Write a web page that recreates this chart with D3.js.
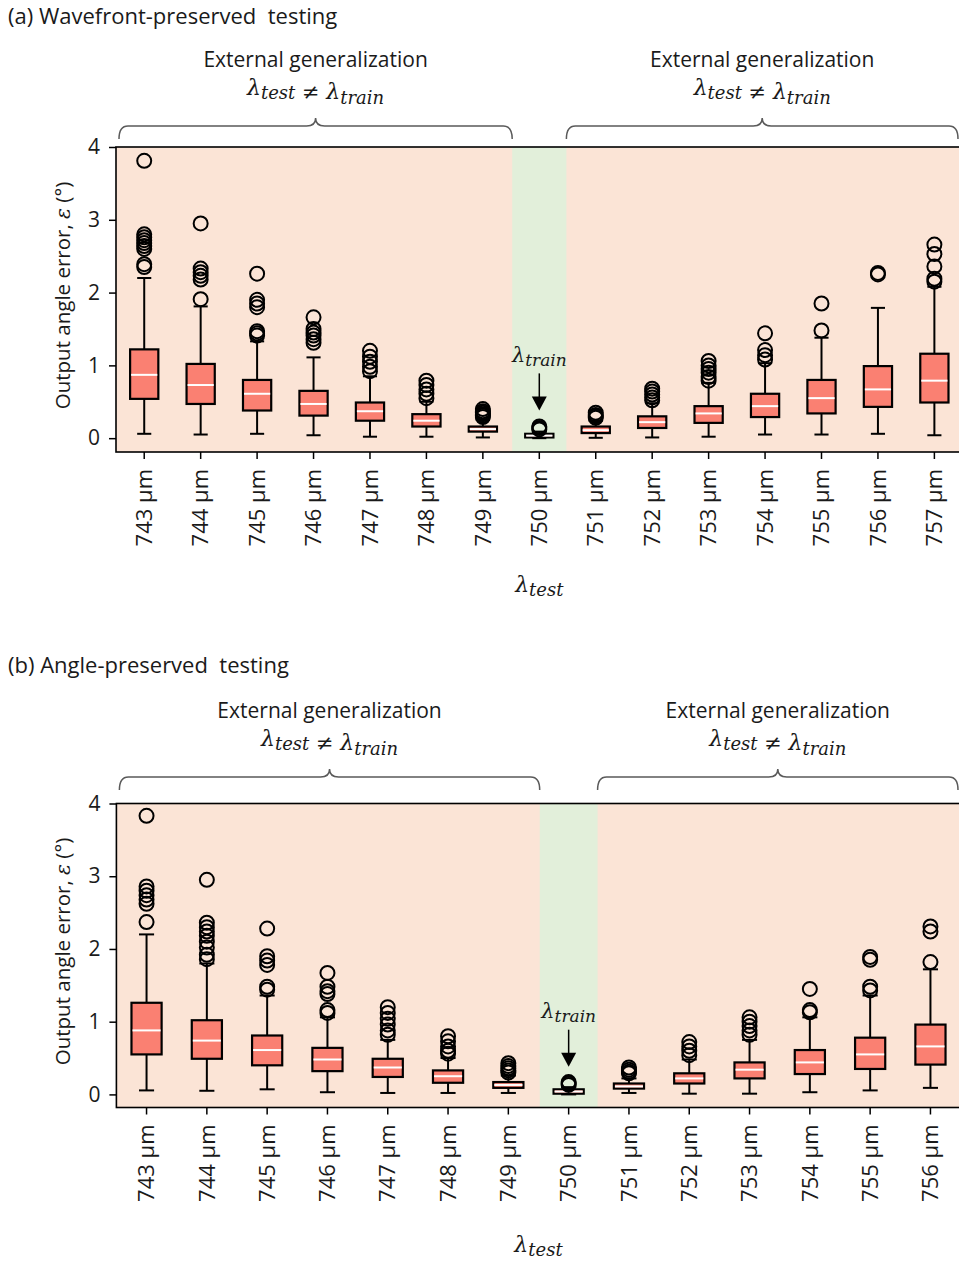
<!DOCTYPE html>
<html>
<head>
<meta charset="utf-8">
<script src="https://cdn.jsdelivr.net/npm/d3@7"></script>
<style>
  body { margin: 0; background: #fff; }
  svg { display: block; }
</style>
</head>
<body>
<svg id="fig" width="959" height="1262"></svg>
<script>
// ---------- (a) Wavefront-preserved testing ----------
const catsA = ["743 µm","744 µm","745 µm","746 µm","747 µm","748 µm","749 µm","750 µm",
               "751 µm","752 µm","753 µm","754 µm","755 µm","756 µm","757 µm"];
const loA  = [0.06, 0.05, 0.06, 0.04, 0.02, 0.02, 0.01, 0.00, 0.005, 0.01, 0.02, 0.05, 0.05, 0.06, 0.04];
const q1A  = [0.54, 0.47, 0.38, 0.31, 0.24, 0.16, 0.09, 0.01, 0.07, 0.14, 0.21, 0.29, 0.34, 0.43, 0.49];
const medA = [0.87, 0.73, 0.61, 0.47, 0.37, 0.24, 0.125, 0.035, 0.11, 0.22, 0.34, 0.44, 0.55, 0.67, 0.79];
const q3A  = [1.22, 1.02, 0.80, 0.65, 0.49, 0.33, 0.16, 0.06, 0.16, 0.30, 0.44, 0.61, 0.80, 0.99, 1.16];
const hiA  = [2.20, 1.81, 1.33, 1.11, 0.85, 0.50, 0.25, 0.09, 0.24, 0.48, 0.76, 1.03, 1.38, 1.79, 2.08];
const outA = [
  [3.81, 2.80, 2.76, 2.72, 2.68, 2.64, 2.60, 2.39, 2.35],
  [2.95, 2.33, 2.28, 2.23, 2.18, 1.91],
  [2.26, 1.90, 1.85, 1.80, 1.47, 1.44, 1.41],
  [1.66, 1.50, 1.45, 1.41, 1.36, 1.31],
  [1.20, 1.12, 1.05, 0.98, 0.92],
  [0.79, 0.73, 0.67, 0.61, 0.55],
  [0.40, 0.37, 0.35, 0.33, 0.31, 0.29],
  [0.16, 0.14, 0.12],
  [0.35, 0.32, 0.30, 0.28],
  [0.68, 0.64, 0.60, 0.56, 0.52],
  [1.06, 1.00, 0.95, 0.90, 0.84, 0.79],
  [1.44, 1.21, 1.14, 1.08],
  [1.85, 1.48],
  [2.27, 2.25],
  [2.66, 2.53, 2.36, 2.19, 2.15]
];

// ---------- (b) Angle-preserved testing ----------
const catsB = ["743 µm","744 µm","745 µm","746 µm","747 µm","748 µm","749 µm","750 µm",
               "751 µm","752 µm","753 µm","754 µm","755 µm","756 µm"];
const loB  = [0.055, 0.05, 0.07, 0.03, 0.02, 0.02, 0.02, 0.00, 0.02, 0.01, 0.01, 0.03, 0.055, 0.09];
const q1B  = [0.55, 0.49, 0.40, 0.32, 0.24, 0.16, 0.09, 0.01, 0.08, 0.15, 0.22, 0.28, 0.35, 0.41];
const medB = [0.88, 0.74, 0.61, 0.48, 0.37, 0.25, 0.13, 0.04, 0.11, 0.22, 0.34, 0.44, 0.55, 0.66];
const q3B  = [1.26, 1.02, 0.81, 0.64, 0.49, 0.33, 0.17, 0.07, 0.15, 0.29, 0.44, 0.61, 0.78, 0.96];
const hiB  = [2.20, 1.80, 1.36, 1.06, 0.75, 0.50, 0.26, 0.10, 0.22, 0.48, 0.75, 1.06, 1.36, 1.72];
const outB = [
  [3.83, 2.86, 2.80, 2.74, 2.68, 2.62, 2.37],
  [2.95, 2.36, 2.30, 2.24, 2.18, 2.10, 2.02, 1.92, 1.86],
  [2.28, 1.90, 1.84, 1.78, 1.48, 1.44],
  [1.67, 1.48, 1.42, 1.38, 1.16, 1.12],
  [1.20, 1.12, 1.04, 0.96, 0.88, 0.82],
  [0.80, 0.73, 0.66, 0.60, 0.56],
  [0.43, 0.39, 0.36, 0.33, 0.30],
  [0.17, 0.15, 0.13],
  [0.37, 0.34, 0.31, 0.29],
  [0.72, 0.66, 0.60, 0.54],
  [1.06, 1.00, 0.94, 0.88, 0.82],
  [1.45, 1.16, 1.13],
  [1.89, 1.85, 1.48, 1.43],
  [2.31, 2.24, 1.82]
];

const yTicks = [0, 1, 2, 3, 4];
const trainCat = "750 µm";
const groupLabel = "External generalization";

const COLORS = {
  bg: "#fbe4d6",
  band: "#e2efda",
  box: "#fa8072",
  ink: "#000",
  text: "#1a1a1a",
  brace: "#5a5a5a"
};
const SANS = "'Open Sans', 'Noto Sans', sans-serif";
const SERIF = "'DejaVu Serif', 'Liberation Serif', serif";

const svg = d3.select("#fig");

// lambda with an italic subscript
function mathLambda(sel, sub, bigSize, smallSize) {
  sel.append("tspan").attr("font-size", bigSize).text("λ");
  sel.append("tspan").attr("font-size", smallSize).attr("dy", bigSize * 0.2).text(sub);
  sel.append("tspan").attr("font-size", bigSize).attr("dy", -bigSize * 0.2).text("");
}

// curly brace opening downward, tip pointing up
function bracePath(x1, x2, yLine, depth, tip, r) {
  const m = (x1 + x2) / 2;
  return `M${x1},${yLine + depth} Q${x1},${yLine} ${x1 + r},${yLine} L${m - r},${yLine} ` +
         `Q${m},${yLine} ${m},${yLine - tip} Q${m},${yLine} ${m + r},${yLine} ` +
         `L${x2 - r},${yLine} Q${x2},${yLine} ${x2},${yLine + depth}`;
}

function drawPanel(p) {
  const g = svg.append("g");
  const x = d3.scaleBand().domain(p.cats).range([p.left, p.right]).padding(0);
  const bw = x.bandwidth();
  const cx = c => x(c) + bw / 2;
  const y = d3.scaleLinear().domain([p.yMin, 4]).range([p.bottom, p.top]);

  // panel title
  g.append("text").attr("x", 8).attr("y", p.titleY)
    .attr("font-family", SANS).attr("font-size", 22).attr("fill", COLORS.text)
    .attr("xml:space", "preserve")
    .text(p.title);

  // plot background and training band
  g.append("rect").attr("x", p.left).attr("y", p.top)
    .attr("width", p.right - p.left).attr("height", p.bottom - p.top)
    .attr("fill", COLORS.bg);
  const bandL = cx(trainCat) - 0.48 * bw, bandR = cx(trainCat) + 0.48 * bw;
  g.append("rect").attr("x", bandL).attr("y", p.top)
    .attr("width", bandR - bandL).attr("height", p.bottom - p.top)
    .attr("fill", COLORS.band);

  // braces with group labels
  const groups = [[p.left + 3, bandL], [bandR, 958]];
  groups.forEach(([a, b]) => {
    g.append("path").attr("d", bracePath(a, b, p.braceY, 13, 8, 9))
      .attr("fill", "none").attr("stroke", COLORS.brace).attr("stroke-width", 1.5);
    const mid = (a + b) / 2;
    g.append("text").attr("x", mid).attr("y", p.braceY - 59)
      .attr("text-anchor", "middle").attr("font-family", SANS).attr("font-size", 21)
      .attr("fill", COLORS.text).text(groupLabel);
    const t = g.append("text").attr("x", mid).attr("y", p.braceY - 31)
      .attr("text-anchor", "middle").attr("font-family", SERIF).attr("font-style", "italic")
      .attr("fill", COLORS.text);
    mathLambda(t, "test", 22, 18);
    t.append("tspan").attr("font-size", 21).attr("font-style", "normal").text(" ≠ ");
    mathLambda(t, "train", 22, 18);
  });

  // boxes
  const boxes = p.cats.map((c, i) => ({
    c, lo: p.lo[i], q1: p.q1[i], med: p.med[i], q3: p.q3[i], hi: p.hi[i], out: p.out[i]
  }));
  const bg = g.append("g").selectAll("g").data(boxes).join("g");
  const bh = bw * 0.5, ch = bw * 0.25;
  bg.append("line").attr("x1", d => cx(d.c)).attr("x2", d => cx(d.c))
    .attr("y1", d => y(d.q3)).attr("y2", d => y(d.hi))
    .attr("stroke", COLORS.ink).attr("stroke-width", 2);
  bg.append("line").attr("x1", d => cx(d.c)).attr("x2", d => cx(d.c))
    .attr("y1", d => y(d.q1)).attr("y2", d => y(d.lo))
    .attr("stroke", COLORS.ink).attr("stroke-width", 2);
  ["lo", "hi"].forEach(k => {
    bg.append("line").attr("x1", d => cx(d.c) - ch / 2).attr("x2", d => cx(d.c) + ch / 2)
      .attr("y1", d => y(d[k])).attr("y2", d => y(d[k]))
      .attr("stroke", COLORS.ink).attr("stroke-width", 2);
  });
  bg.append("rect").attr("x", d => cx(d.c) - bh / 2).attr("width", bh)
    .attr("y", d => y(d.q3)).attr("height", d => y(d.q1) - y(d.q3))
    .attr("fill", COLORS.box).attr("stroke", COLORS.ink).attr("stroke-width", 2.2);
  bg.append("line").attr("x1", d => cx(d.c) - bh / 2 + 1).attr("x2", d => cx(d.c) + bh / 2 - 1)
    .attr("y1", d => y(d.med)).attr("y2", d => y(d.med))
    .attr("stroke", "#fff").attr("stroke-width", 2);
  bg.selectAll("circle").data(d => d.out.map(v => ({ c: d.c, v }))).join("circle")
    .attr("cx", d => cx(d.c)).attr("cy", d => y(d.v)).attr("r", 7)
    .attr("fill", "none").attr("stroke", COLORS.ink).attr("stroke-width", 2);

  // training wavelength marker
  const ax = cx(trainCat);
  g.append("line").attr("x1", ax).attr("x2", ax)
    .attr("y1", y(0.89)).attr("y2", y(0.38) - 12)
    .attr("stroke", COLORS.ink).attr("stroke-width", 1.5);
  g.append("path")
    .attr("d", `M${ax - 7.5},${y(0.38) - 14} L${ax + 7.5},${y(0.38) - 14} L${ax},${y(0.38)} Z`)
    .attr("fill", COLORS.ink);
  const tt = g.append("text").attr("x", ax).attr("y", y(1.05))
    .attr("text-anchor", "middle").attr("font-family", SERIF).attr("font-style", "italic")
    .attr("fill", COLORS.text);
  mathLambda(tt, "train", 21, 17);

  // frame
  g.append("rect").attr("x", p.left).attr("y", p.top)
    .attr("width", p.right - p.left).attr("height", p.bottom - p.top)
    .attr("fill", "none").attr("stroke", COLORS.ink).attr("stroke-width", 1.6);

  // y axis
  const ya = g.append("g").attr("transform", `translate(${p.left},0)`)
    .call(d3.axisLeft(y).tickValues(yTicks).tickFormat(d3.format("d")).tickSize(7).tickPadding(9));
  ya.select(".domain").remove();
  ya.selectAll("line").attr("stroke", COLORS.ink).attr("stroke-width", 1.5);
  ya.selectAll("text").attr("font-family", SANS).attr("font-size", 21).attr("fill", COLORS.text);

  // x axis
  const xa = g.append("g").attr("transform", `translate(0,${p.bottom})`)
    .call(d3.axisBottom(x).tickSize(7));
  xa.select(".domain").remove();
  xa.selectAll("line").attr("stroke", COLORS.ink).attr("stroke-width", 1.5);
  xa.selectAll("text")
    .attr("font-family", SANS).attr("font-size", 22).attr("fill", COLORS.text)
    .attr("transform", "rotate(-90)")
    .attr("text-anchor", "end")
    .attr("x", -17).attr("y", 0).attr("dy", "0.35em");

  // axis titles
  const yl = g.append("text")
    .attr("transform", `translate(70,${(p.top + p.bottom) / 2 - 4}) rotate(-90)`)
    .attr("text-anchor", "middle").attr("font-family", SANS).attr("font-size", 20.5)
    .attr("fill", COLORS.text);
  yl.append("tspan").text("Output angle error, ");
  yl.append("tspan").attr("font-family", SERIF).attr("font-style", "italic").text("ε");
  yl.append("tspan").text(" (°)");

  const xl = g.append("text").attr("x", (p.left + p.right) / 2).attr("y", p.xLabelY)
    .attr("text-anchor", "middle").attr("font-family", SERIF).attr("font-style", "italic")
    .attr("fill", COLORS.text);
  mathLambda(xl, "test", 22, 18);
}

drawPanel({
  title: "(a) Wavefront-preserved  testing", titleY: 24,
  cats: catsA, lo: loA, q1: q1A, med: medA, q3: q3A, hi: hiA, out: outA,
  left: 116, right: 962.6, top: 147, bottom: 452, yMin: -0.19,
  braceY: 126, xLabelY: 592
});
drawPanel({
  title: "(b) Angle-preserved  testing", titleY: 673,
  cats: catsB, lo: loB, q1: q1B, med: medB, q3: q3B, hi: hiB, out: outB,
  left: 116.4, right: 960.6, top: 803.5, bottom: 1107.5, yMin: -0.18,
  braceY: 777, xLabelY: 1252
});
</script>
</body>
</html>
